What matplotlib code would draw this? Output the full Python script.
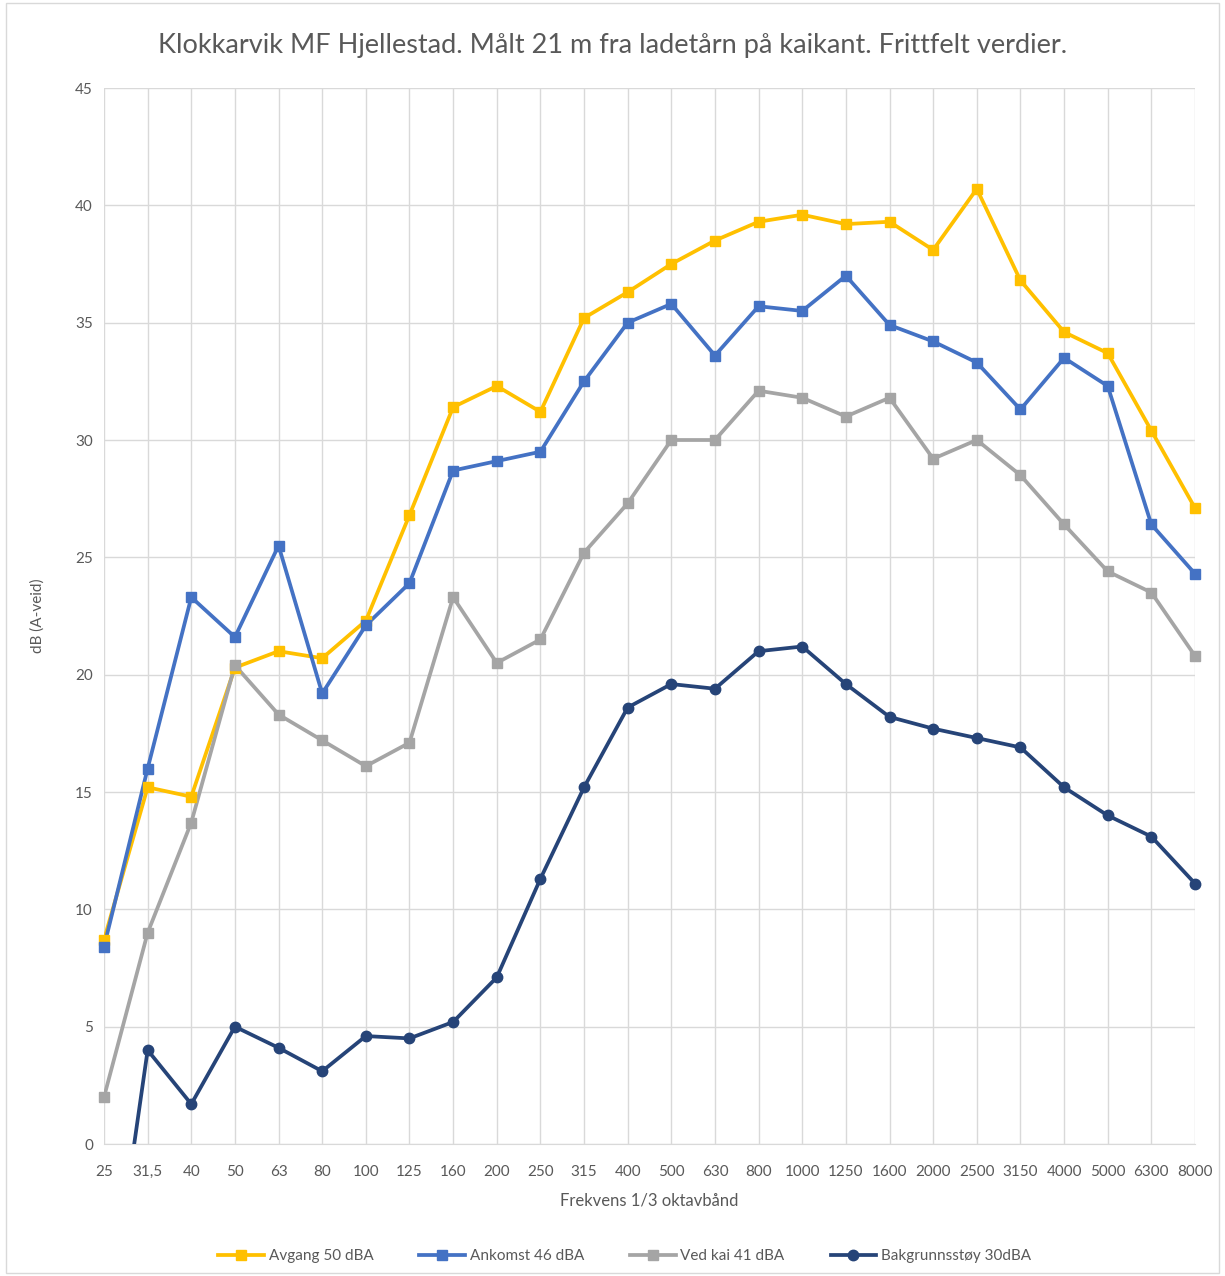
import matplotlib
matplotlib.use('Agg')
import matplotlib.pyplot as plt
import numpy as np
from matplotlib.patches import Rectangle

plt.rcParams['font.family'] = ['Lato', 'DejaVu Sans']

freq = ['25', '31,5', '40', '50', '63', '80', '100', '125', '160', '200', '250', '315', '400',
        '500', '630', '800', '1000', '1250', '1600', '2000', '2500', '3150', '4000', '5000',
        '6300', '8000']

avgang = [8.7, 15.2, 14.8, 20.3, 21.0, 20.7, 22.3, 26.8, 31.4, 32.3, 31.2, 35.2, 36.3, 37.5,
          38.5, 39.3, 39.6, 39.2, 39.3, 38.1, 40.7, 36.8, 34.6, 33.7, 30.4, 27.1]
ankomst = [8.4, 16.0, 23.3, 21.6, 25.5, 19.2, 22.1, 23.9, 28.7, 29.1, 29.5, 32.5, 35.0, 35.8,
           33.6, 35.7, 35.5, 37.0, 34.9, 34.2, 33.3, 31.3, 33.5, 32.3, 26.4, 24.3]
ved_kai = [2.0, 9.0, 13.7, 20.4, 18.3, 17.2, 16.1, 17.1, 23.3, 20.5, 21.5, 25.2, 27.3, 30.0,
           30.0, 32.1, 31.8, 31.0, 31.8, 29.2, 30.0, 28.5, 26.4, 24.4, 23.5, 20.8]
bakgrunn = [-9.0, 4.0, 1.7, 5.0, 4.1, 3.1, 4.6, 4.5, 5.2, 7.1, 11.3, 15.2, 18.6, 19.6, 19.4,
            21.0, 21.2, 19.6, 18.2, 17.7, 17.3, 16.9, 15.2, 14.0, 13.1, 11.1]

series = [
    ('Avgang 50 dBA', avgang, '#FFC000', 's'),
    ('Ankomst 46 dBA', ankomst, '#4472C4', 's'),
    ('Ved kai 41 dBA', ved_kai, '#A5A5A5', 's'),
    ('Bakgrunnsstøy 30dBA', bakgrunn, '#264478', 'o'),
]

fig = plt.figure(figsize=(12.25, 12.76), dpi=100)
ax = fig.add_axes([104 / 1225, 1 - 1144 / 1276, (1195 - 104) / 1225, (1144 - 88) / 1276])

x = np.arange(len(freq))
for name, vals, col, mk in series:
    vals = np.array(vals)
    ax.plot(x, vals, color=col, lw=2.7, zorder=3)
    ok = vals >= 0  # punkter under 0 vises ikke
    ax.plot(x[ok], vals[ok], ls='none', marker=mk, ms=7.5, color=col, clip_on=False, zorder=4)
    ax.plot([], [], color=col, lw=2.7, marker=mk, ms=7.5, label=name)

ax.set_xlim(0, len(freq) - 1)
ax.set_ylim(0, 45)
ax.set_yticks(range(0, 46, 5))
ax.set_xticks(x)
ax.set_xticklabels(freq)
ax.grid(True, color='#D9D9D9', lw=1)
ax.set_axisbelow(True)
for s in ['top', 'right', 'left']:
    ax.spines[s].set_visible(False)
ax.spines['bottom'].set_color('#D9D9D9')
ax.tick_params(length=0, labelsize=11, colors='#595959', pad=8)
ax.tick_params(axis='x', pad=15)

ax.set_xlabel('Frekvens 1/3 oktavbånd', fontsize=12, color='#595959', labelpad=10)
ax.set_ylabel('dB (A-veid)', fontsize=11, color='#595959', labelpad=22)
fig.text(0.5, 1 - 46 / 1276, 'Klokkarvik MF Hjellestad. Målt 21 m fra ladetårn på kaikant. Frittfelt verdier.',
         ha='center', va='center', fontsize=19.5, color='#595959')

fig.legend(loc='center', bbox_to_anchor=(0.51, 1 - 1256 / 1276), ncol=4, frameon=False,
           fontsize=11, labelcolor='#595959', handlelength=3, columnspacing=3, handletextpad=0.3)

fig.add_artist(Rectangle((0.005, 0.002), 0.99, 0.996, transform=fig.transFigure,
                         fill=False, edgecolor='#D9D9D9', lw=1))

fig.savefig('out.png', dpi=100)
